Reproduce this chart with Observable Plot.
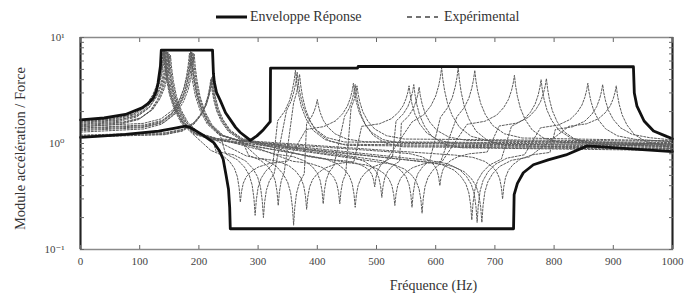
<!DOCTYPE html>
<html><head><meta charset="utf-8">
<script src="https://cdn.jsdelivr.net/npm/d3@7"></script>
<script src="https://cdn.jsdelivr.net/npm/@observablehq/plot@0.6"></script>
<style>
body{margin:0;background:#fff;font-family:"Liberation Serif","Times New Roman",Tinos,"DejaVu Serif",serif;}
#wrap{width:693px;height:297px;position:relative;overflow:hidden;}
#legend{position:relative;height:30px;font-size:14px;color:#333;}
#legend .it{position:absolute;top:8px;line-height:18px;white-space:nowrap;}
#legend svg{position:absolute;}
</style></head><body>
<div id="wrap">
<div id="legend">
<svg style="left:216px;top:14px" width="31" height="6"><line x1="0" x2="31" y1="3" y2="3" stroke="#111" stroke-width="3"/></svg>
<span class="it" style="left:250px">Enveloppe Réponse</span>
<svg style="left:407px;top:14px" width="31" height="6"><line x1="0" x2="31" y1="3" y2="3" stroke="#444" stroke-width="1.6" stroke-dasharray="5,4"/></svg>
<span class="it" style="left:444px">Expérimental</span>
</div>
<div id="chart"></div>
</div>
<script>
// axis ticks
const xTicks = [0, 100, 200, 300, 400, 500, 600, 700, 800, 900, 1000];
const yTicks = [0.1, 1, 10];
const yTickLabels = ["10⁻¹", "10⁰", "10¹"];
const yMinorTicks = [0.2, 0.3, 0.4, 0.5, 0.6, 0.7, 0.8, 0.9, 2, 3, 4, 5, 6, 7, 8, 9];

// Enveloppe Réponse (upper / lower)
const upperHz  = [0, 40, 76, 104, 115, 123, 128, 131, 135, 136.5, 223, 224.5, 226, 230, 236, 245, 253, 262, 270, 280, 287, 298, 309, 318, 320.5, 321, 468, 469, 934, 935.5, 940, 952, 968, 991, 1000];
const upperVal = [1.67, 1.74, 1.88, 2.17, 2.4, 2.69, 3.1, 3.72, 5.36, 7.6, 7.6, 4.6, 3.8, 3.0, 2.55, 1.95, 1.68, 1.42, 1.27, 1.15, 1.07, 1.18, 1.35, 1.55, 1.6, 5.14, 5.14, 5.33, 5.3, 3.0, 2.25, 1.63, 1.31, 1.16, 1.11];
const lowerHz  = [0, 40, 76, 132, 160, 177, 186, 205, 225, 235, 241, 246, 250, 252, 253, 731.5, 732.5, 738, 748, 765, 790, 820, 856, 930, 1000];
const lowerVal = [1.14, 1.18, 1.22, 1.31, 1.40, 1.46, 1.41, 1.22, 1.02, 0.85, 0.71, 0.5, 0.37, 0.25, 0.157, 0.157, 0.33, 0.42, 0.53, 0.63, 0.70, 0.78, 0.95, 0.89, 0.84];

// Expérimental curves (one entry per measured curve)
const startVal  = [1.62, 1.45, 1.55, 1.15, 1.58, 1.38, 1.50, 1.32, 1.18, 1.65, 1.40, 1.52, 1.20, 1.47, 1.35, 1.60, 1.28, 1.16, 1.43];
const peak1Hz   = [140, 186, 143, 222, 147, 190, 152, 184, 220, 141, 188, 145, 223, 150, 192, 142, 187, 221, 148];
const peak1Val  = [7.6, 7.4, 7.6, 4.2, 7.3, 7.2, 6.8, 7.1, 4.0, 7.5, 7.3, 7.4, 4.3, 7.0, 7.0, 7.6, 7.2, 4.1, 7.2];
const afterPeak1 = [1.0, 0.98, 1.02, 0.95, 1.0, 0.97, 1.03, 0.99, 0.94, 1.04, 0.98, 1.01, 0.96, 1.02, 0.97, 1.0, 0.99, 0.95, 1.03];
const beforeDip = [0.95, 0.9, 0.88, 0.85, 0.8, 0.75, 0.82, 0.7, 0.78, 0.72, 0.8, 0.68, 0.75, 0.7, 0.85, 0.7, 0.72, 0.68, 0.8];
const dipHz     = [270, 295, 309, 334, 360, 382, 410, 438, 464, 497, 509, 531, 560, 577, 607, 661, 670, 678, 713];
const dipVal    = [0.28, 0.21, 0.20, 0.26, 0.17, 0.24, 0.27, 0.27, 0.25, 0.39, 0.31, 0.26, 0.25, 0.22, 0.40, 0.19, 0.18, 0.18, 0.30];
const afterDip  = [0.7, 0.8, 0.75, 0.85, 0.8, 0.7, 0.85, 0.8, 0.72, 0.85, 0.8, 0.7, 0.85, 0.8, 0.85, 0.8, 0.82, 0.78, 0.85];
const beforePeak2 = [1.3, 1.2, 1.25, 1.2, 1.15, 1.4, 1.2, 1.25, 1.4, 1.3, 1.25, 1.45, 1.3, 1.35, 1.4, 1.3, 1.35, 1.4, 1.3];
const peak2Hz   = [461, 363, 366, 370, 400, 555, 464, 467, 610, 563, 572, 733, 638, 666, 787, 778, 857, 905, 882];
const peak2Val  = [3.7, 4.9, 4.7, 4.5, 2.6, 3.5, 3.6, 3.5, 5.2, 3.6, 3.4, 4.4, 5.2, 4.9, 4.1, 4.0, 3.7, 3.5, 3.6];
const endVal    = [0.95, 0.92, 0.97, 0.90, 1.00, 0.94, 0.88, 1.05, 0.99, 0.86, 1.02, 0.96, 0.89, 1.06, 0.93, 0.98, 1.04, 0.91, 1.08];

// shape of a resonance / anti-resonance cusp as read on the picture
const profileOffsetHz = [0, 2, 5, 10, 18, 30, 50, 80];
const peakWeight      = [0, 0.15, 0.3, 0.47, 0.63, 0.78, 0.9, 0.96];
const dipWeight       = [0, 0.25, 0.45, 0.6, 0.72, 0.83, 0.92, 0.97];

function buildCurve(i) {
  const feats = [
    {f: 0, v: startVal[i], end: true},
    {f: peak1Hz[i], v: peak1Val[i], lb: startVal[i], rb: afterPeak1[i], w: peakWeight},
    {f: dipHz[i], v: dipVal[i], lb: beforeDip[i], rb: afterDip[i], w: dipWeight},
    {f: peak2Hz[i], v: peak2Val[i], lb: beforePeak2[i], rb: endVal[i], w: peakWeight},
    {f: 1000, v: endVal[i], end: true}
  ];
  const pts = [[0, startVal[i]]];
  for (let k = 1; k <= 3; k++) {
    const F = feats[k], P = feats[k - 1], N = feats[k + 1];
    const leftLim = P.end ? (F.f - P.f) - 5 : (F.f - P.f) / 2;
    const rightLim = N.end ? (N.f - F.f) - 5 : (N.f - F.f) / 2;
    const L = Math.log10(F.v);
    for (let j = profileOffsetHz.length - 1; j >= 1; j--) {
      const d = profileOffsetHz[j];
      if (d < leftLim) pts.push([F.f - d, Math.pow(10, L + (Math.log10(F.lb) - L) * F.w[j])]);
    }
    pts.push([F.f, F.v]);
    for (let j = 1; j < profileOffsetHz.length; j++) {
      const d = profileOffsetHz[j];
      if (d < rightLim) pts.push([F.f + d, Math.pow(10, L + (Math.log10(F.rb) - L) * F.w[j])]);
    }
  }
  pts.push([1000, endVal[i]]);
  return pts.map(([hz, v]) => ({curve: i, hz, v}));
}

const expData = startVal.flatMap((_, i) => buildCurve(i));
const upper = upperHz.map((hz, i) => ({hz, v: upperVal[i]}));
const lower = lowerHz.map((hz, i) => ({hz, v: lowerVal[i]}));
const serif = '"Liberation Serif", "Times New Roman", Tinos, "DejaVu Serif", serif';

const chart = Plot.plot({
  width: 693, height: 267,
  marginTop: 7, marginBottom: 48, marginLeft: 80, marginRight: 21,
  style: {fontFamily: serif, fontSize: "11px", color: "#444", background: "white", overflow: "visible"},
  x: {domain: [xTicks[0], xTicks[xTicks.length - 1]]},
  y: {type: "log", domain: [yTicks[0], yTicks[yTicks.length - 1]]},
  marks: [
    Plot.line(expData, {x: "hz", y: "v", z: "curve", stroke: "#5c5c5c", strokeWidth: 1, strokeDasharray: "2,1.6"}),
    Plot.line(upper, {x: "hz", y: "v", stroke: "#111", strokeWidth: 2.8}),
    Plot.line(lower, {x: "hz", y: "v", stroke: "#111", strokeWidth: 2.8}),
    Plot.frame({stroke: "#8a8a8a", strokeWidth: 1.5}),
    Plot.ruleX([xTicks[0], xTicks[xTicks.length - 1]], {stroke: "#222", strokeWidth: 2}),
    Plot.axisX({anchor: "bottom", ticks: xTicks, tickSize: 0, tickPadding: 8, tickFormat: d => String(d), label: null, fill: "#444"}),
    Plot.axisX({anchor: "bottom", ticks: xTicks, tickSize: 4, dy: -4, tickFormat: () => "", label: null, stroke: "#666"}),
    Plot.axisX({anchor: "top", ticks: xTicks, tickSize: 4, dy: 4, tickFormat: () => "", label: null, stroke: "#666"}),
    Plot.axisY({anchor: "left", ticks: yTicks, tickSize: 0, tickPadding: 16, tickFormat: d => yTickLabels[yTicks.indexOf(d)], label: null, fill: "#444"}),
    Plot.axisY({anchor: "left", ticks: yMinorTicks.concat(yTicks), tickSize: 4, dx: 4, tickFormat: () => "", label: null, stroke: "#666"}),
    Plot.axisY({anchor: "right", ticks: yMinorTicks.concat(yTicks), tickSize: 4, dx: -4, tickFormat: () => "", label: null, stroke: "#666"}),
    Plot.text(["Module accélération / Force"], {frameAnchor: "left", rotate: -90, dx: -60, dy: 5, textAnchor: "middle", fontSize: 14.5, fill: "#333"}),
    Plot.text(["Fréquence (Hz)"], {frameAnchor: "bottom", dx: 57, dy: 40, textAnchor: "middle", fontSize: 14, fill: "#333"})
  ]
});
document.getElementById("chart").appendChild(chart);
</script>
</body></html>
